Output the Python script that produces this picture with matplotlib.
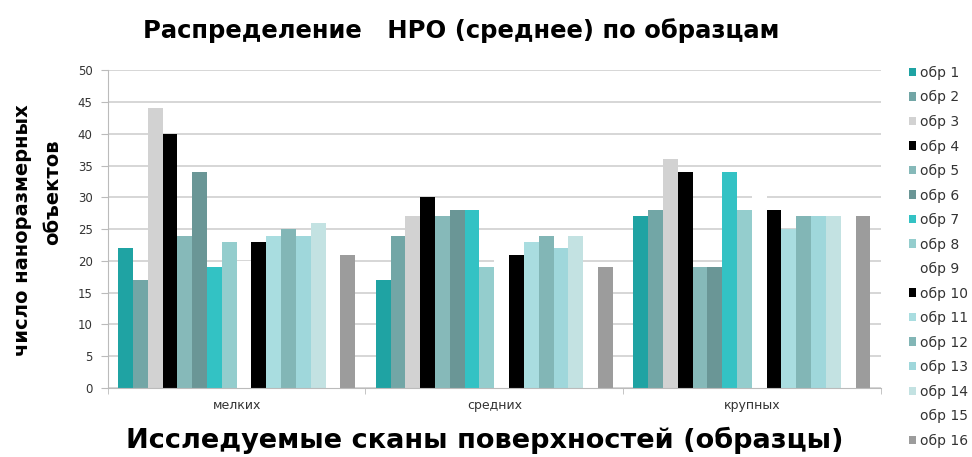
import matplotlib
matplotlib.use("Agg")
import matplotlib.pyplot as plt
import numpy as np

categories = ["мелких", "средних", "крупных"]
series_names = ["обр 1", "обр 2", "обр 3", "обр 4", "обр 5", "обр 6", "обр 7", "обр 8",
                "обр 9", "обр 10", "обр 11", "обр 12", "обр 13", "обр 14", "обр 15", "обр 16"]
values = {
    "обр 1": [22, 17, 27],
    "обр 2": [17, 24, 28],
    "обр 3": [44, 27, 36],
    "обр 4": [40, 30, 34],
    "обр 5": [24, 27, 19],
    "обр 6": [34, 28, 19],
    "обр 7": [19, 28, 34],
    "обр 8": [23, 19, 28],
    "обр 9": [20, 21, 31],
    "обр 10": [23, 21, 28],
    "обр 11": [24, 23, 25],
    "обр 12": [25, 24, 27],
    "обр 13": [24, 22, 27],
    "обр 14": [26, 24, 27],
    "обр 15": [21, 19, 27],
    "обр 16": [21, 19, 27],
}
colors = ["#1fa3a3", "#72a6a6", "#d2d2d2", "#000000", "#86b9b9", "#6a9696",
          "#33c2c4", "#94cdcd", "#ffffff", "#000000", "#a9dde0", "#82b6b6",
          "#9fd7db", "#c3e2e2", "#ffffff", "#9c9c9c"]
yticks = [0, 5, 10, 15, 20, 25, 30, 35, 40, 45, 50]

fig = plt.figure(figsize=(9.72, 4.57), dpi=100)
ax = fig.add_axes([0.111, 0.151, 0.795, 0.695])

n = len(series_names)
group_w = 0.92
bw = group_w / n
x = np.arange(len(categories))
handles = []
for i, name in enumerate(series_names):
    pos = x - group_w / 2 + bw * (i + 0.5)
    h = ax.bar(pos, values[name], width=bw, color=colors[i], label=name, zorder=2)
    handles.append(h)

ax.set_xlim(-0.5, len(categories) - 0.5)
ax.set_ylim(0, 50)
ax.set_yticks(yticks)
ax.set_yticklabels([str(t) for t in yticks], fontsize=8.5, color="#333333")
ax.set_xticks(x)
ax.set_xticklabels(categories, fontsize=9, color="#333333")
ax.tick_params(axis="x", length=0, pad=8)
ax.set_xticks([-0.5, 0.5, 1.5, 2.5], minor=True)
ax.tick_params(axis="x", which="minor", length=4, color="#bbbbbb")
ax.tick_params(axis="y", length=5, color="#bbbbbb", pad=6)
ax.grid(axis="y", color="#cccccc", linewidth=1.1, zorder=0)
ax.set_axisbelow(True)
for s in ["top", "right"]:
    ax.spines[s].set_visible(False)
ax.spines["left"].set_color("#bbbbbb")
ax.spines["bottom"].set_color("#bbbbbb")

fig.text(0.474, 0.934, "Распределение   НРО (среднее) по образцам", ha="center", va="center",
         fontsize=17.5, fontweight="bold")
fig.text(0.0235, 0.497, "число наноразмерных", ha="center", va="center",
         rotation=90, fontsize=14, fontweight="bold")
fig.text(0.0545, 0.58, "объектов", ha="center", va="center",
         rotation=90, fontsize=14, fontweight="bold")
fig.text(0.499, 0.037, "Исследуемые сканы поверхностей (образцы)", ha="center", va="center",
         fontsize=19.5, fontweight="bold")

leg = fig.legend(handles=handles, labels=series_names, loc="upper left",
                 bbox_to_anchor=(0.929, 0.868), frameon=False, fontsize=10,
                 handlelength=0.55, handleheight=0.55, handletextpad=0.25,
                 labelspacing=0.75, borderaxespad=0)
for t in leg.get_texts():
    t.set_color("#333333")

fig.savefig("out.png", dpi=100)
